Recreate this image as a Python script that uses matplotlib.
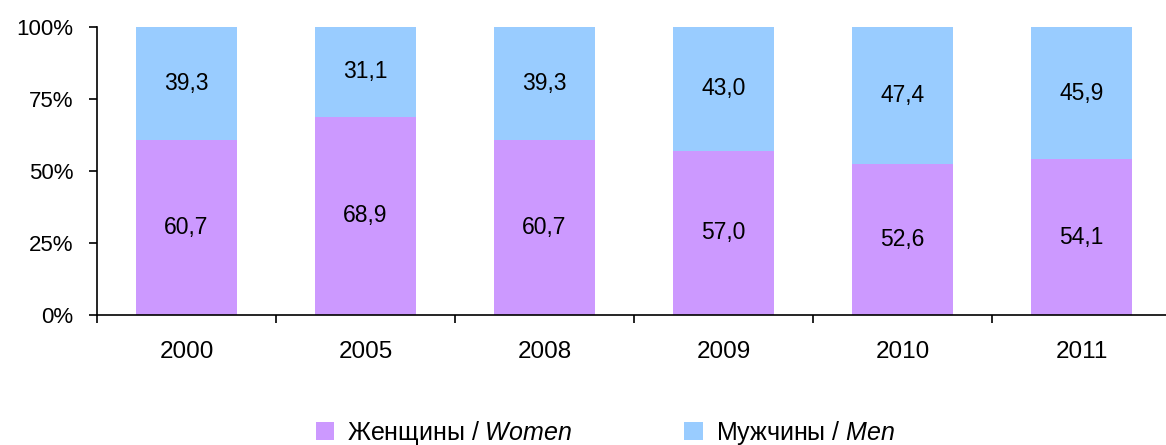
import matplotlib
matplotlib.use("Agg")
import matplotlib.pyplot as plt
import numpy as np

years = ["2000", "2005", "2008", "2009", "2010", "2011"]
women = [60.7, 68.9, 60.7, 57.0, 52.6, 54.1]
men = [39.3, 31.1, 39.3, 43.0, 47.4, 45.9]
labels = ["Женщины / $\\it{Women}$", "Мужчины / $\\it{Men}$"]
yticks = [0, 25, 50, 75, 100]

plt.rcParams['font.family'] = ['Liberation Sans', 'DejaVu Sans']
plt.rcParams['mathtext.fontset'] = 'custom'
plt.rcParams['mathtext.it'] = 'Liberation Sans:italic'
plt.rcParams['mathtext.rm'] = 'Liberation Sans'

fig = plt.figure(figsize=(11.66, 4.45), dpi=100)
ax = fig.add_axes([97/1166, 1-315/445, 1074/1166, 288/445])

x = np.arange(len(years))
w = 0.56
c_w = "#CC99FF"
c_m = "#99CCFF"
b1 = ax.bar(x, women, w, color=c_w, label=labels[0])
b2 = ax.bar(x, men, w, bottom=women, color=c_m, label=labels[1])

def fmt(v):
    return f"{v:.1f}".replace(".", ",")

for xi, wv, mv in zip(x, women, men):
    ax.text(xi, wv/2, fmt(wv), ha="center", va="center", fontsize=16.5)
    ax.text(xi, wv + mv/2, fmt(mv), ha="center", va="center", fontsize=16.5)

ax.set_xlim(-0.5, len(years)-0.5)
ax.set_ylim(0, 100)
ax.set_yticks(yticks)
ax.set_yticklabels([f"{t}%" for t in yticks])
ax.set_xticks(np.arange(-0.5, len(years)), minor=False)
ax.set_xticklabels([])
ax.set_xticks(x, minor=True)
ax.set_xticklabels(years, minor=True)
ax.tick_params(axis="x", which="major", direction="out", length=6, width=1.2)
ax.tick_params(axis="x", which="minor", length=0, pad=19, labelsize=17.5)
ax.tick_params(axis="y", direction="out", length=6, width=1.2, pad=11, labelsize=16)
for s in ["top", "right"]:
    ax.spines[s].set_visible(False)
for s in ["left", "bottom"]:
    ax.spines[s].set_linewidth(1.2)

fig.legend(handles=[b1, b2], loc="center", bbox_to_anchor=(0.519, 0.027),
           ncol=2, frameon=False, fontsize=18, handlelength=0.75, handleheight=0.75,
           columnspacing=4.5, handletextpad=0.5)

fig.savefig("out.png", dpi=100)
